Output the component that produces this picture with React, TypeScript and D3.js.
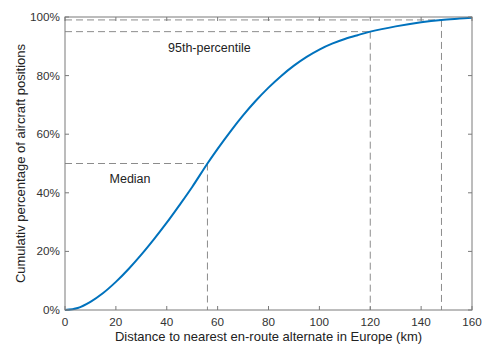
import { useEffect, useRef } from 'react'
import * as d3 from 'd3'

// distance (km) vs cumulative share (%)
const distances = [0, 5, 10, 15, 20, 25, 30, 35, 40, 45, 50, 56, 60, 65, 70, 75, 80, 85, 90, 95, 100, 105, 110, 115, 120, 130, 140, 148, 155, 160]
const cumulative = [0, 0.7, 2.8, 5.8, 9.6, 14, 18.9, 24.2, 29.8, 35.8, 42, 50, 55, 60.9, 66.4, 71.4, 75.9, 79.9, 83.4, 86.4, 88.9, 90.9, 92.5, 93.8, 95, 96.8, 98.2, 99, 99.45, 99.75]

const xTicks = [0, 20, 40, 60, 80, 100, 120, 140, 160]
const yTicks = [0, 20, 40, 60, 80, 100]

// percentile markers: [distance, percent]
const markers: [number, number][] = [[56, 50], [120, 95], [148, 99]]
const markerLabels = [
  { text: 'Median', x: 17.5, y: 45 },
  { text: '95th-percentile', x: 40.5, y: 89.4 }
]

export default function App() {
  const svgRef = useRef<SVGSVGElement>(null)

  useEffect(() => {
    if (!svgRef.current) return
    const width = 482
    const height = 345
    const margin = { top: 17, right: 10, bottom: 35, left: 65 }
    const innerWidth = width - margin.left - margin.right
    const innerHeight = height - margin.top - margin.bottom

    const svg = d3.select(svgRef.current)
    svg.selectAll('*').remove()
    svg.attr('width', width).attr('height', height)

    const g = svg.append('g').attr('transform', `translate(${margin.left},${margin.top})`)

    const x = d3.scaleLinear().domain([0, 160]).range([0, innerWidth])
    const y = d3.scaleLinear().domain([0, 100]).range([innerHeight, 0])

    const axisColor = '#7a7a7a'
    const textColor = '#333'
    const font = 'Liberation Sans, Arial, sans-serif'

    // dashed percentile guides
    markers.forEach(([d, p]) => {
      g.append('line')
        .attr('x1', 0).attr('x2', x(d))
        .attr('y1', y(p)).attr('y2', y(p))
        .attr('stroke', '#8c8c8c').attr('stroke-width', 1)
        .attr('stroke-dasharray', '7,4')
      g.append('line')
        .attr('x1', x(d)).attr('x2', x(d))
        .attr('y1', y(p)).attr('y2', innerHeight)
        .attr('stroke', '#8c8c8c').attr('stroke-width', 1)
        .attr('stroke-dasharray', '7,4')
    })

    markerLabels.forEach(l => {
      g.append('text')
        .attr('x', x(l.x)).attr('y', y(l.y))
        .attr('dy', '0.35em')
        .attr('font-family', font).attr('font-size', 12.5)
        .attr('fill', '#222')
        .text(l.text)
    })

    // curve
    const pts = distances.map((d, i) => [d, cumulative[i]] as [number, number])
    const line = d3.line<[number, number]>()
      .x(d => x(d[0]))
      .y(d => y(d[1]))
      .curve(d3.curveCatmullRom.alpha(0.5))
    g.append('path')
      .datum(pts)
      .attr('d', line)
      .attr('fill', 'none')
      .attr('stroke', '#0072BD')
      .attr('stroke-width', 2)

    // box
    g.append('rect')
      .attr('x', 0).attr('y', 0)
      .attr('width', innerWidth).attr('height', innerHeight)
      .attr('fill', 'none').attr('stroke', axisColor).attr('stroke-width', 1)

    // ticks (inward, on all four sides)
    const tl = 4
    xTicks.forEach(t => {
      g.append('line').attr('x1', x(t)).attr('x2', x(t)).attr('y1', innerHeight).attr('y2', innerHeight - tl).attr('stroke', axisColor)
      g.append('line').attr('x1', x(t)).attr('x2', x(t)).attr('y1', 0).attr('y2', tl).attr('stroke', axisColor)
      g.append('text')
        .attr('x', x(t)).attr('y', innerHeight + 16)
        .attr('text-anchor', 'middle')
        .attr('font-family', font).attr('font-size', 11.7)
        .attr('fill', textColor)
        .text(t)
    })
    yTicks.forEach(t => {
      g.append('line').attr('x1', 0).attr('x2', tl).attr('y1', y(t)).attr('y2', y(t)).attr('stroke', axisColor)
      g.append('line').attr('x1', innerWidth).attr('x2', innerWidth - tl).attr('y1', y(t)).attr('y2', y(t)).attr('stroke', axisColor)
      g.append('text')
        .attr('x', -5).attr('y', y(t))
        .attr('dy', '0.35em')
        .attr('text-anchor', 'end')
        .attr('font-family', font).attr('font-size', 11.7)
        .attr('fill', textColor)
        .text(`${t}%`)
    })

    // axis titles
    g.append('text')
      .attr('x', innerWidth / 2).attr('y', innerHeight + 31)
      .attr('text-anchor', 'middle')
      .attr('font-family', font).attr('font-size', 13)
      .attr('fill', '#222')
      .text('Distance to nearest en-route alternate in Europe (km)')

    g.append('text')
      .attr('transform', 'rotate(-90)')
      .attr('x', -innerHeight / 2).attr('y', -40)
      .attr('text-anchor', 'middle')
      .attr('font-family', font).attr('font-size', 13)
      .attr('fill', '#222')
      .text('Cumulativ percentage of aircraft positions')
  }, [])

  return (
    <div style={{ position: 'absolute', left: 0, top: 0, background: '#fff' }}>
      <svg ref={svgRef} style={{ display: 'block' }} />
    </div>
  )
}
